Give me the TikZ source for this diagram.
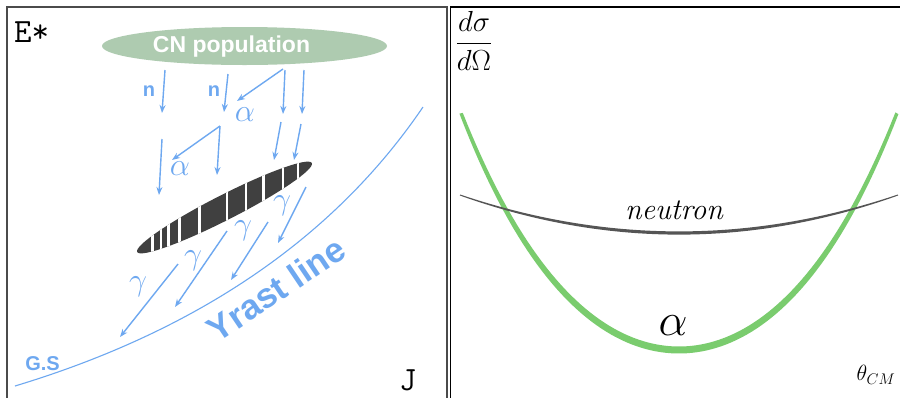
\documentclass[tikz,border=0pt]{standalone}
\usepackage{fix-cm}
\usepackage{amsmath}
\usepackage{fontspec}
\newfontfamily\lsans{Liberation Sans}
\usetikzlibrary{arrows.meta}
\definecolor{arrblue}{RGB}{110,168,240}
\definecolor{cngreen}{RGB}{174,203,176}
\definecolor{agreen}{RGB}{122,204,110}
\definecolor{ngray}{RGB}{85,85,85}
\definecolor{bardark}{RGB}{64,64,64}
\definecolor{frame}{RGB}{75,75,75}
\begin{document}
\begin{tikzpicture}[x=1pt,y=-1pt,
  decay/.style={draw=arrblue, line width=1.4pt, -{Stealth[length=8pt,width=6pt]}},
  greek/.style={text=arrblue, font=\fontsize{32}{32}\selectfont, inner sep=0pt},
  sanslbl/.style={text=arrblue, font=\lsans\bfseries\fontsize{20}{20}\selectfont, inner sep=0pt},
  ttlbl/.style={font=\ttfamily\fontsize{34}{34}\selectfont, inner sep=0pt},
  declare function={
    aS(\v)=3.9*\v+1.68*\v*\v*\v;
    aL(\v)=sqrt(2.18*2.18+aS(\v)*aS(\v));
    aW(\v)=3.5-1.8*\v*\v;
    aX(\v)=679+218*\v;
    aY(\v)=350-195*\v*\v-42*\v*\v*\v*\v;
    nS(\v)=0.76*\v;
    nL(\v)=sqrt(2.19*2.19+nS(\v)*nS(\v));
    nW(\v)=1.6-1.1*\v*\v;
    nX(\v)=679+219*\v;
    nY(\v)=233-38*\v*\v;
  }]
\useasboundingbox (0,0) rectangle (900,397);
\fill[white] (0,0) rectangle (900,397);

% panel frames
\draw[frame, line width=2pt] (7,400) -- (7,7) -- (447,7) -- (447,400);
\draw[black, line width=1.2pt] (450.5,400) -- (450.5,7) -- (905,7);

% ---------- left panel ----------
\node[ttlbl, anchor=base west] (estar) at (14,42) {E*};
\node[ttlbl, anchor=base west] (jlab) at (399,390) {J};

% Yrast line
\draw[arrblue, line width=1.1pt] (15,386) .. controls (197,331) and (334,238) .. (423,107);
\node[sanslbl, anchor=center] (gs) at (42.5,363.5) {G.S};
\node[text=arrblue, font=\lsans\bfseries\fontsize{35}{35}\selectfont, inner sep=0pt, rotate=34] (yrast) at (276,289) {Yrast line};

% CN population
\fill[cngreen] (244.5,46) ellipse [x radius=142.5, y radius=19];
\node[text=white, font=\lsans\bfseries\fontsize{23}{23}\selectfont, inner sep=0pt, anchor=base] (cn) at (231.5,52.5) {CN population};

% dark bar
\begin{scope}
  \clip[rotate around={27:(224.5,207.5)}] (224.5,207.5) ellipse [x radius=98, y radius=12.5];
  \fill[bardark] (120,140) rectangle (330,275);
  \foreach \gx in {152.5,161,168.3,179.5,199.5,227,246,263.5,283,298}
    \draw[white, line width=2.4pt] (\gx,140) -- (\gx,275);
\end{scope}

% arrow end points
\coordinate (a1s) at (165,70);  \coordinate (a1e) at (162,113);
\coordinate (a2s) at (228,74);  \coordinate (a2e) at (224,112);
\coordinate (a3s) at (283,69);  \coordinate (a3e) at (237,101);
\coordinate (a4s) at (285,70);  \coordinate (a4e) at (283,114);
\coordinate (a5s) at (304,70);  \coordinate (a5e) at (302,114);
\coordinate (a6s) at (220,126); \coordinate (a6e) at (172,160);
\coordinate (a7s) at (220,126); \coordinate (a7e) at (217,175);
\coordinate (a8s) at (162,139); \coordinate (a8e) at (159,195);
\coordinate (a9s) at (281,122); \coordinate (a9e) at (274,160);
\coordinate (a10s) at (301,124); \coordinate (a10e) at (294,160);
\coordinate (a11s) at (306,187); \coordinate (a11e) at (278,243);
\coordinate (a12s) at (268,222); \coordinate (a12e) at (231,280);
\coordinate (a13s) at (227,231); \coordinate (a13e) at (175,307);
\coordinate (a14s) at (178,264); \coordinate (a14e) at (120,337);
\foreach \i in {1,...,14} \draw[decay] (a\i s) -- (a\i e);

% labels
\node[sanslbl] (n1) at (149,91) {n};
\node[sanslbl] (n2) at (214,91) {n};
\node[greek] (al1) at (245,115) {$\alpha$};
\node[greek] (al2) at (180,169) {$\alpha$};
\node[greek] (g1) at (138,287) {$\gamma$};
\node[greek] (g2) at (193,261) {$\gamma$};
\node[greek] (g3) at (243,231) {$\gamma$};
\node[greek] (g4) at (282,206) {$\gamma$};

% ---------- right panel ----------
\node[font=\fontsize{29}{29}\selectfont, inner sep=0pt] (dsdo) at (474,41) {$\dfrac{d\sigma}{d\Omega}$};

\fill[agreen]
  plot[domain=-1:1, samples=90, variable=\v] ({aX(\v)+aW(\v)*aS(\v)/aL(\v)}, {aY(\v)+aW(\v)*2.18/aL(\v)})
  -- plot[domain=1:-1, samples=90, variable=\v] ({aX(\v)-aW(\v)*aS(\v)/aL(\v)}, {aY(\v)-aW(\v)*2.18/aL(\v)})
  -- cycle;
\fill[ngray]
  plot[domain=-1:1, samples=60, variable=\v] ({nX(\v)+nW(\v)*nS(\v)/nL(\v)}, {nY(\v)+nW(\v)*2.19/nL(\v)})
  -- plot[domain=1:-1, samples=60, variable=\v] ({nX(\v)-nW(\v)*nS(\v)/nL(\v)}, {nY(\v)-nW(\v)*2.19/nL(\v)})
  -- cycle;

\node[font=\itshape\fontsize{30}{30}\selectfont, inner sep=0pt, anchor=base] (neut) at (674,219) {neutron};
\node[font=\fontsize{46}{46}\selectfont, inner sep=0pt] (alR) at (673,326) {$\alpha$};
\node[font=\fontsize{22}{22}\selectfont, inner sep=0pt] (theta) at (876,375) {$\theta_{CM}$};
\end{tikzpicture}
\end{document}
